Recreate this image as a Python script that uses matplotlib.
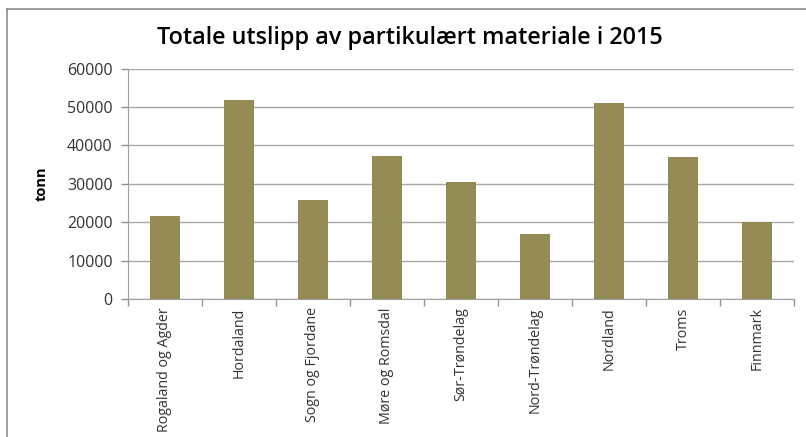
import numpy as np
import matplotlib.pyplot as plt
from matplotlib.lines import Line2D

regions = ['Rogaland og Agder', 'Hordaland', 'Sogn og Fjordane', 'Møre og Romsdal',
           'Sør-Trøndelag', 'Nord-Trøndelag', 'Nordland', 'Troms', 'Finnmark']
emissions = [21700, 51900, 25800, 37200, 30400, 16900, 51000, 37000, 20100]
y_ticks = [0, 10000, 20000, 30000, 40000, 50000, 60000]

plt.rcParams['font.family'] = ['Open Sans', 'DejaVu Sans']

fig = plt.figure(figsize=(8.06, 4.37), dpi=100)
ax = fig.add_axes([0.1588, 0.3158, 0.8262, 0.5274])

x = np.arange(len(regions))
ax.bar(x, emissions, width=0.4, color='#948A54', zorder=3)

ax.set_xlim(-0.5, len(regions) - 0.5)
ax.set_ylim(0, 60000)
ax.set_yticks(y_ticks)
ax.set_yticklabels([str(v) for v in y_ticks], fontsize=11.5, color='#333333')
ax.set_xticks(x)
ax.set_xticklabels(regions, rotation=90, fontsize=10.3, color='#333333')
ax.tick_params(axis='x', length=0, pad=6)
ax.tick_params(axis='y', length=5, color='#909090', width=1, pad=6)

# category separators on the x axis
ax.set_xticks(np.arange(-0.5, len(regions)), minor=True)
ax.tick_params(axis='x', which='minor', length=5, color='#909090', width=1)

ax.grid(axis='y', color='#a8a8a8', linewidth=1, zorder=0)
for s in ['top', 'right']:
    ax.spines[s].set_visible(False)
ax.spines['left'].set_color('#a0a0a0')
ax.spines['bottom'].set_color('#a0a0a0')

ax.set_ylabel('tonn', fontsize=10.5, fontweight='bold', labelpad=13)

fig.text(0.509, 0.913, 'Totale utslipp av partikulært materiale i 2015',
         ha='center', va='center', fontsize=16.8, fontweight='semibold')

# outer chart frame
top = 1 - 9 / 437
left = 7 / 806
fig.add_artist(Line2D([left, 1], [top, top], color='#8c8c8c', linewidth=1.2))
fig.add_artist(Line2D([left, left], [0, top], color='#8c8c8c', linewidth=1.2))

fig.savefig('out.png', dpi=100)
